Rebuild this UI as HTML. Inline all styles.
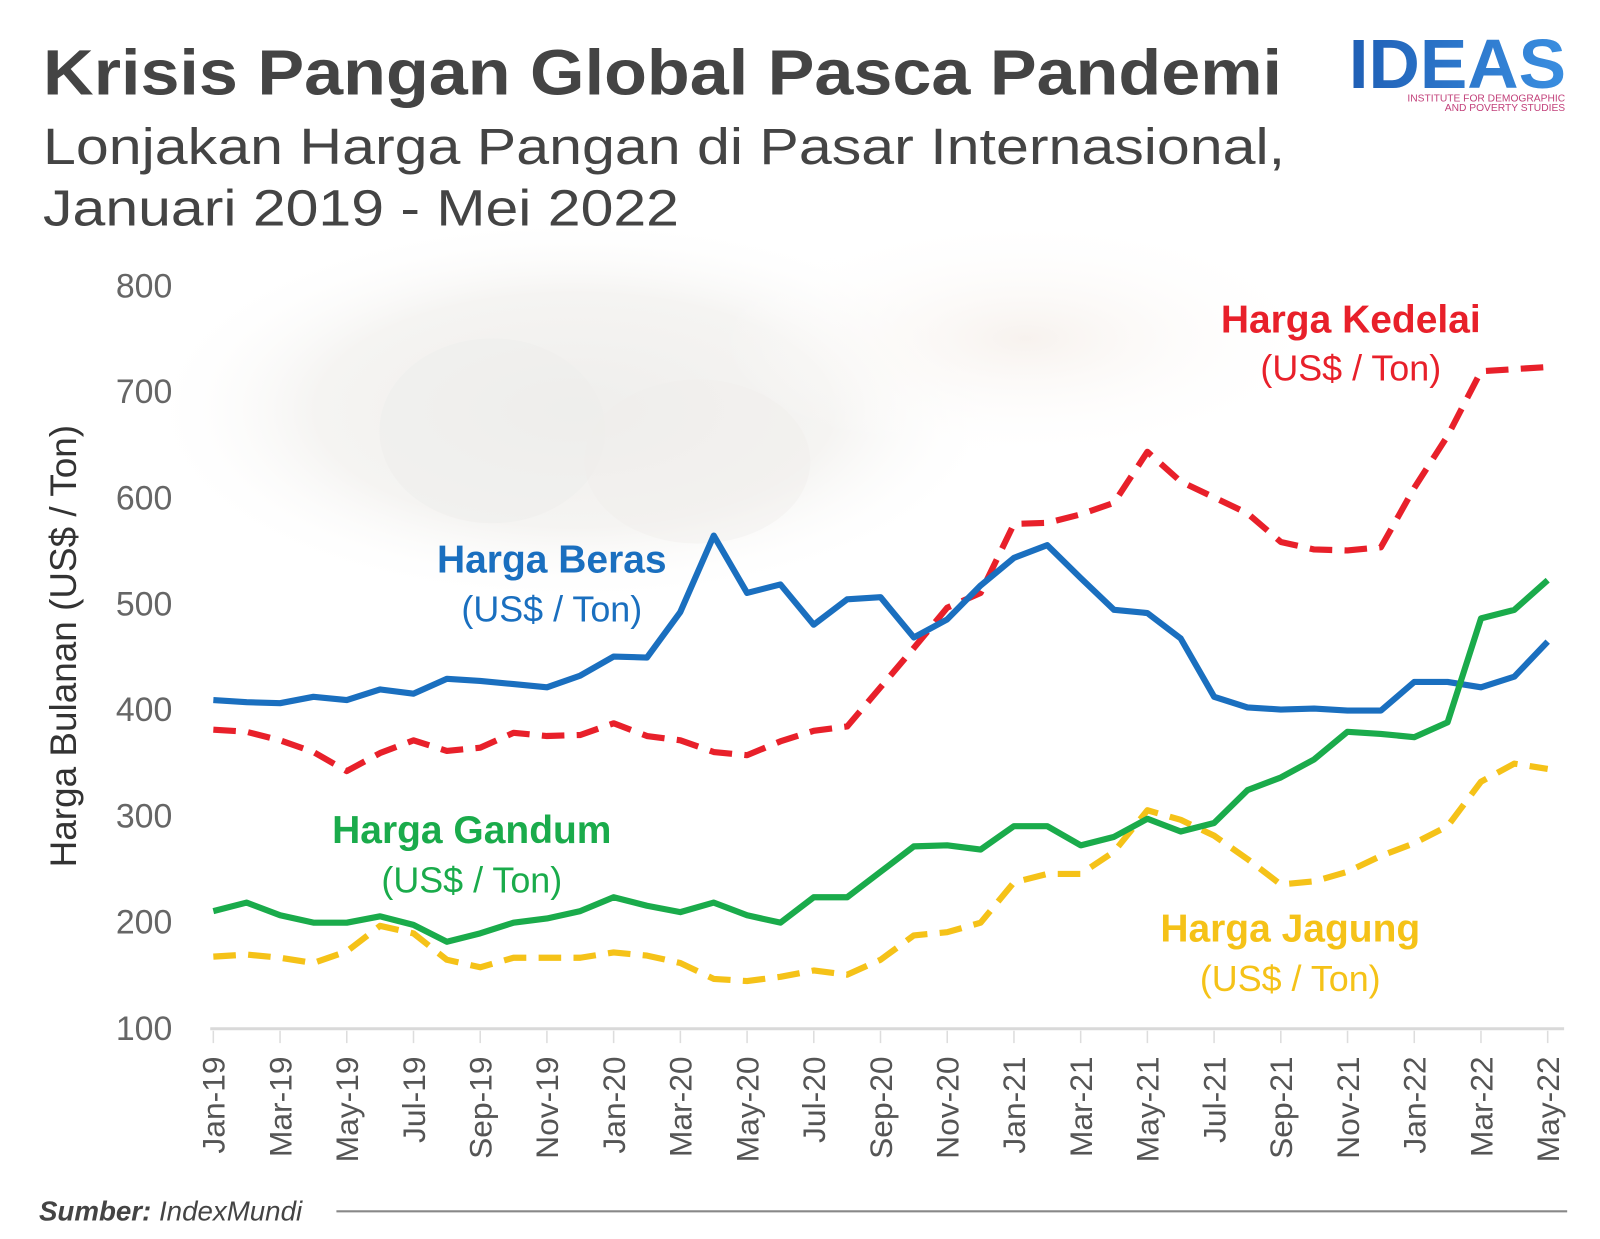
<!DOCTYPE html>
<html><head><meta charset="utf-8"><style>html,body{margin:0;padding:0;background:#fff}svg{display:block}</style></head>
<body>
<svg width="1600" height="1239" viewBox="0 0 1560 1208" xmlns="http://www.w3.org/2000/svg" font-family="'Liberation Sans', sans-serif">
<defs>
<radialGradient id="bg" cx="0.5" cy="0.5" r="0.5"><stop offset="0" stop-color="#efeeec"/><stop offset="0.6" stop-color="#f5f4f2"/><stop offset="1" stop-color="#fff" stop-opacity="0"/></radialGradient>
<radialGradient id="bg2" cx="0.5" cy="0.5" r="0.5"><stop offset="0" stop-color="#f7f2ee"/><stop offset="1" stop-color="#fff" stop-opacity="0"/></radialGradient>
<linearGradient id="lg" x1="0" x2="1"><stop offset="0" stop-color="#1f5fb5"/><stop offset="1" stop-color="#3a8ee0"/></linearGradient>
</defs>
<rect width="1560" height="1208" fill="#fff"/>
<ellipse cx="560" cy="400" rx="420" ry="190" fill="url(#bg)"/>
<ellipse cx="1000" cy="330" rx="300" ry="120" fill="url(#bg2)"/>
<ellipse cx="480" cy="420" rx="110" ry="90" fill="#eeedeb" opacity="0.5"/>
<ellipse cx="680" cy="450" rx="110" ry="80" fill="#efeeec" opacity="0.4"/>

<text x="42" y="92" font-size="62" font-weight="bold" fill="#444" textLength="1208" lengthAdjust="spacingAndGlyphs">Krisis Pangan Global Pasca Pandemi</text>
<text x="42" y="160" font-size="50" fill="#444" textLength="1211" lengthAdjust="spacingAndGlyphs">Lonjakan Harga Pangan di Pasar Internasional,</text>
<text x="42" y="220" font-size="50" fill="#444" textLength="620" lengthAdjust="spacingAndGlyphs">Januari 2019 -  Mei 2022</text>

<text x="1315" y="86" font-size="68" font-weight="bold" fill="url(#lg)" textLength="212" lengthAdjust="spacingAndGlyphs">IDEAS</text>
<text x="1526" y="99" font-size="10" fill="#c2407a" text-anchor="end">INSTITUTE FOR DEMOGRAPHIC</text>
<text x="1526" y="108" font-size="10" fill="#c2407a" text-anchor="end">AND POVERTY STUDIES</text>

<g font-size="33" fill="#666" text-anchor="end">
<text x="168" y="290">800</text><text x="168" y="393">700</text><text x="168" y="497">600</text><text x="168" y="600">500</text><text x="168" y="703">400</text><text x="168" y="807">300</text><text x="168" y="910">200</text><text x="168" y="1014">100</text>
</g>
<text transform="translate(74,630) rotate(-90)" font-size="36" fill="#333" text-anchor="middle">Harga Bulanan (US$ / Ton)</text>

<line x1="205" y1="1003" x2="1525" y2="1003" stroke="#d9d9d9" stroke-width="3"/>
<g stroke="#ddd" stroke-width="1.5" id="ticks"></g>
<g font-size="31" fill="#555" text-anchor="end" id="xl"></g>

<g fill="none" stroke-width="6" stroke-linejoin="round">
<polyline id="kd" stroke="#e8202a" stroke-dasharray="22 12"/>
<polyline id="jg" stroke="#f5c218" stroke-dasharray="22 12"/>
<polyline id="br" stroke="#1a6fbf"/>
<polyline id="gd" stroke="#1aab4b"/>
</g>

<g font-weight="bold" text-anchor="middle">
<text x="538" y="558" font-size="38" fill="#1a6fbf">Harga Beras</text>
<text x="1317" y="324" font-size="38" fill="#e8202a">Harga Kedelai</text>
<text x="460" y="822" font-size="38" fill="#1aab4b">Harga Gandum</text>
<text x="1258" y="918" font-size="38" fill="#f5c218">Harga Jagung</text>
</g>
<g text-anchor="middle" font-size="35">
<text x="538" y="606" fill="#1a6fbf">(US$ / Ton)</text>
<text x="1317" y="371" fill="#e8202a">(US$ / Ton)</text>
<text x="460" y="870" fill="#1aab4b">(US$ / Ton)</text>
<text x="1258" y="966" fill="#f5c218">(US$ / Ton)</text>
</g>

<text x="38" y="1190" font-size="27" fill="#444" font-style="italic"><tspan font-weight="bold">Sumber:</tspan> IndexMundi</text>
<line x1="328" y1="1181" x2="1528" y2="1181" stroke="#888" stroke-width="2"/>

<script>
var br=[409,407,406,412,409,419,415,429,427,424,421,432,450,449,492,564,510,518,480,504,506,468,485,517,543,555,524,494,491,467,412,402,400,401,399,399,426,426,421,431,464];
var kd=[381,379,371,360,342,359,371,361,364,378,375,376,387,375,371,360,357,370,380,384,421,458,496,510,575,576,584,595,643,615,600,585,558,551,550,553,609,658,719,721,723];
var gd=[210,218,206,199,199,205,197,181,189,199,203,210,223,215,209,218,206,199,223,223,247,271,272,268,290,290,272,280,297,285,293,324,336,353,379,377,374,388,486,494,522];
var jg=[167,169,166,161,172,196,189,164,157,166,166,166,171,168,161,146,144,148,154,150,164,187,190,199,237,245,245,266,305,296,281,259,235,238,247,262,274,290,332,349,344];
function X(i){return 208+32.525*i;} function Y(v){return 1002-(v-100)*1.034;}
function pts(a){return a.map(function(v,i){return X(i).toFixed(1)+','+Y(v).toFixed(1)}).join(' ');}
[['br',br],['kd',kd],['gd',gd],['jg',jg]].forEach(function(p){document.getElementById(p[0]).setAttribute('points',pts(p[1]));});
var m=['Jan','Mar','May','Jul','Sep','Nov'],ns='http://www.w3.org/2000/svg';
var t=document.getElementById('ticks'),xl=document.getElementById('xl');
for(var i=0;i<=40;i++){if(i%2)continue;var x=X(i);var l=document.createElementNS(ns,'line');l.setAttribute('x1',x);l.setAttribute('x2',x);l.setAttribute('y1',1005);l.setAttribute('y2',1017);t.appendChild(l);
var tx=document.createElementNS(ns,'text');var yr=19+Math.floor(i/12);tx.textContent=m[(i%12)/2]+'-'+yr;tx.setAttribute('transform','translate('+(x+11)+',1030) rotate(-90)');xl.appendChild(tx);}
</script>
</svg>
</body></html>
